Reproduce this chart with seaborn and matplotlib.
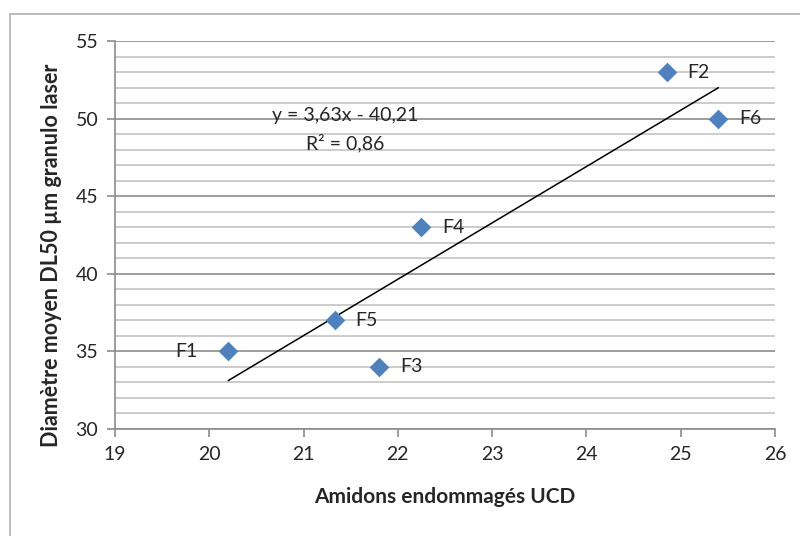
import matplotlib
matplotlib.use("Agg")
import matplotlib.pyplot as plt
import seaborn as sns
import pandas as pd
import numpy as np
from matplotlib.patches import Rectangle

# ---- data ----
labels = ["F1", "F2", "F3", "F4", "F5", "F6"]
amidons = [20.2, 24.85, 21.8, 22.25, 21.33, 25.4]
diametre = [35, 53, 34, 43, 37, 50]
slope = 3.63
intercept = -40.21
x_ticks = [19, 20, 21, 22, 23, 24, 25, 26]
y_ticks = [30, 35, 40, 45, 50, 55]

df = pd.DataFrame({"x": amidons, "y": diametre, "label": labels})

sns.set_style("white")
plt.rcParams["font.family"] = ["Lato", "DejaVu Sans"]

fig = plt.figure(figsize=(8, 5.36), dpi=100)
ax = fig.add_axes([115 / 800, 1 - 429 / 536, 660 / 800, 388 / 536])

# outer chart frame
fig.patches.append(Rectangle((10 / 800, -0.1), 1.2, 1 - 14 / 536 + 0.1,
                             transform=fig.transFigure, fill=False,
                             edgecolor="#b0b0b0", linewidth=1.2, zorder=0))

# grid lines
for v in range(30, 56):
    if v % 5 == 0:
        ax.axhline(v, color="#8c8c8c", lw=1.2, zorder=1)
    else:
        ax.axhline(v, color="#c4c4c4", lw=1.2, zorder=1)

sns.scatterplot(data=df, x="x", y="y", marker="D", s=100, color="#4F81BD",
                edgecolor="#4F81BD", linewidth=0, ax=ax, zorder=3)

# trend line
xl = np.array([min(amidons), max(amidons)])
ax.plot(xl, slope * xl + intercept, color="black", lw=1.1, zorder=2)

# data labels
for lab, xv, yv in zip(labels, amidons, diametre):
    if lab == "F1":
        ax.annotate(lab, (xv, yv), xytext=(-22, 0), textcoords="offset points",
                    ha="right", va="center", fontsize=14)
    else:
        ax.annotate(lab, (xv, yv), xytext=(15, 0), textcoords="offset points",
                    ha="left", va="center", fontsize=14)

ax.text(21.44, 50.23, "y = 3,63x - 40,21", ha="center", va="center", fontsize=14)
ax.text(21.44, 48.43, "R² = 0,86", ha="center", va="center", fontsize=14)

ax.set_xlim(19, 26)
ax.set_ylim(30, 55)
ax.set_xticks(x_ticks)
ax.set_yticks(y_ticks)
ax.set_xticklabels([str(t) for t in x_ticks], fontsize=14)
ax.set_yticklabels([str(t) for t in y_ticks], fontsize=14)
ax.tick_params(axis="both", direction="out", length=6, width=1.2, color="#8c8c8c",
               pad=6, bottom=True, left=True)

for s in ["top", "right"]:
    ax.spines[s].set_visible(False)
for s in ["left", "bottom"]:
    ax.spines[s].set_color("#8c8c8c")
    ax.spines[s].set_linewidth(1.2)

ax.set_xlabel("")
ax.set_ylabel("")
fig.text(445 / 800, 1 - 497 / 536, "Amidons endommagés UCD", fontsize=15,
         fontweight="bold", ha="center", va="center")
fig.text(52 / 800, 1 - 255 / 536, "Diamètre moyen DL50 µm granulo laser", fontsize=15.5,
         fontweight="bold", ha="center", va="center", rotation=90)

fig.savefig("out.png", dpi=100)
